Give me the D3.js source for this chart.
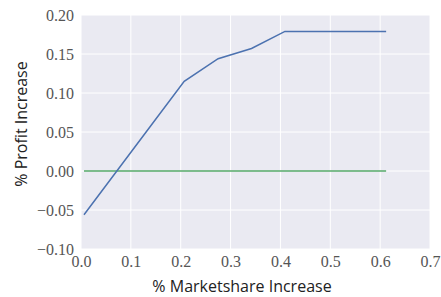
<!DOCTYPE html>
<html>
<head>
<meta charset="utf-8">
<script src="https://cdn.jsdelivr.net/npm/d3@7"></script>
<style>
	body { margin: 0; background: #fff; }
</style>
</head>
<body>
<svg id="chart" width="441" height="297"></svg>
<script>
// values
const share = [0.006, 0.073, 0.140, 0.207, 0.275, 0.342, 0.409, 0.476, 0.544, 0.612]
const profit = [-0.056, 0.001, 0.058, 0.115, 0.144, 0.157, 0.179, 0.179, 0.179, 0.179]
const baseline = share.map(() => 0)
const xTicks = [0, 0.1, 0.2, 0.3, 0.4, 0.5, 0.6, 0.7]
const yTicks = [-0.10, -0.05, 0, 0.05, 0.10, 0.15, 0.20]

const m = {left: 81, right: 11, top: 15, bottom: 48}
const svg = d3.select('#chart')
const w = +svg.attr('width') - m.left - m.right
const h = +svg.attr('height') - m.top - m.bottom

const x = d3.scaleLinear().domain([0, 0.7]).range([0, w])
const y = d3.scaleLinear().domain([-0.10, 0.20]).range([h, 0])

const g = svg.append('g').attr('transform', `translate(${m.left},${m.top})`)

g.append('rect')
	.attr('width', w)
	.attr('height', h)
	.style('fill', '#EAEAF2')

// grid
g.selectAll('.vgrid').data(xTicks).enter().append('line')
	.attr('x1', d => x(d)).attr('x2', d => x(d))
	.attr('y1', 0).attr('y2', h)
	.style('stroke', '#fff').style('stroke-width', 1)
g.selectAll('.hgrid').data(yTicks).enter().append('line')
	.attr('y1', d => y(d)).attr('y2', d => y(d))
	.attr('x1', 0).attr('x2', w)
	.style('stroke', '#fff').style('stroke-width', 1)

// axes, ticks hidden like seaborn darkgrid
const xAxis = g.append('g')
	.attr('transform', `translate(0,${h})`)
	.call(d3.axisBottom(x).tickValues(xTicks).tickFormat(d3.format('.1f')).tickSize(0).tickPadding(7))
const yAxis = g.append('g')
	.call(d3.axisLeft(y).tickValues(yTicks).tickFormat(d => d3.format('.2f')(d).replace('-', '\u2212')).tickSize(0).tickPadding(7))
xAxis.select('.domain').remove()
yAxis.select('.domain').remove()
g.selectAll('.tick text')
	.attr('font-family', null)
	.style('font-family', "'Liberation Serif', 'DejaVu Serif', serif")
	.style('font-size', '16px')
	.style('fill', '#555')

const line = d3.line()
	.x((d, i) => x(share[i]))
	.y(d => y(d))

g.append('path')
	.datum(baseline)
	.attr('d', line)
	.style('fill', 'none')
	.style('stroke', '#55A868')
	.style('stroke-width', 1.5)

g.append('path')
	.datum(profit)
	.attr('d', line)
	.style('fill', 'none')
	.style('stroke', '#4C72B0')
	.style('stroke-width', 1.5)

svg.append('text')
	.attr('x', 242)
	.attr('y', 292)
	.attr('text-anchor', 'middle')
	.style('font-family', "'Open Sans', sans-serif")
	.style('font-size', '16px')
	.style('fill', '#222')
	.text('% Marketshare Increase')

svg.append('text')
	.attr('transform', 'translate(27,124) rotate(-90)')
	.attr('text-anchor', 'middle')
	.style('font-family', "'Open Sans', sans-serif")
	.style('font-size', '16px')
	.style('fill', '#222')
	.text('% Profit Increase')
</script>
</body>
</html>
